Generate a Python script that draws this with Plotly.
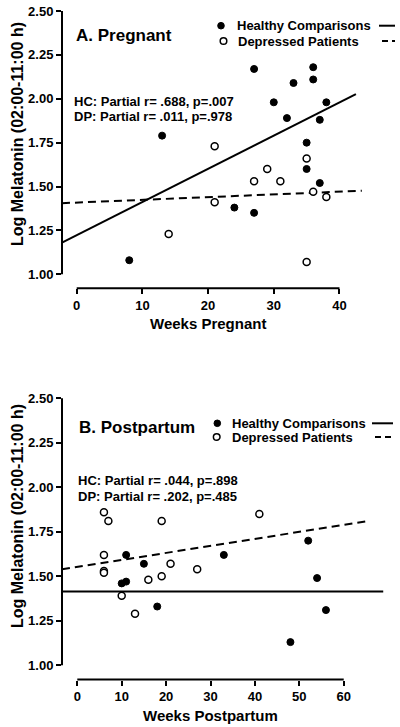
import plotly.graph_objects as go

# ---------------- data ----------------
# Panel A: Pregnant
a_hc_weeks = [8, 13, 24, 27, 27, 30, 32, 33, 35, 35, 36, 36, 37, 37, 38]
a_hc_mel = [1.08, 1.79, 1.38, 1.35, 2.17, 1.98, 1.89, 2.09, 1.75, 1.60, 2.18, 2.11, 1.88, 1.52, 1.98]
a_dp_weeks = [14, 21, 21, 27, 29, 31, 35, 35, 36, 38]
a_dp_mel = [1.23, 1.41, 1.73, 1.53, 1.60, 1.53, 1.66, 1.07, 1.47, 1.44]
a_hc_fit_x = [-2.24, 42.5]
a_hc_fit_y = [1.18, 2.026]
a_dp_fit_x = [-2.24, 43.4]
a_dp_fit_y = [1.405, 1.476]

# Panel B: Postpartum
b_hc_weeks = [10, 11, 11, 15, 18, 33, 48, 52, 54, 56]
b_hc_mel = [1.46, 1.47, 1.62, 1.57, 1.33, 1.62, 1.13, 1.70, 1.49, 1.31]
b_dp_weeks = [6, 7, 19, 41, 6, 6, 6, 21, 27, 19, 16, 10, 13]
b_dp_mel = [1.86, 1.81, 1.81, 1.85, 1.62, 1.53, 1.52, 1.57, 1.54, 1.50, 1.48, 1.39, 1.29]
b_hc_fit_x = [-3.45, 68.9]
b_hc_fit_y = [1.414, 1.414]
b_dp_fit_x = [-3.45, 65.9]
b_dp_fit_y = [1.539, 1.812]

y_ticks = [1.00, 1.25, 1.50, 1.75, 2.00, 2.25, 2.50]
a_x_ticks = [0, 10, 20, 30, 40]
b_x_ticks = [0, 10, 20, 30, 40, 50, 60]

legend_labels = ["Healthy Comparisons", "Depressed Patients"]
a_title = "A. Pregnant"
b_title = "B. Postpartum"
a_stats = ["HC: Partial r= .688, p=.007", "DP: Partial r= .011, p=.978"]
b_stats = ["HC: Partial r= .044, p=.898", "DP: Partial r= .202, p=.485"]
y_title = "Log Melatonin (02:00-11:00 h)"
a_x_title = "Weeks Pregnant"
b_x_title = "Weeks Postpartum"

# ---------------- layout helpers ----------------
W, H = 400, 727
FONT = "Liberation Sans, Arial, sans-serif"


def px(x):
    return x / W


def py(y):
    return 1 - y / H


fig = go.Figure()

mk_hc = dict(symbol="circle", size=7, color="black", line=dict(color="black", width=1))
mk_dp = dict(symbol="circle", size=7, color="white", line=dict(color="black", width=1.5))
DASH = "8px,5px"

# Panel A traces
fig.add_trace(go.Scatter(x=a_hc_fit_x, y=a_hc_fit_y, mode="lines",
                         line=dict(color="black", width=2), xaxis="x", yaxis="y", showlegend=False))
fig.add_trace(go.Scatter(x=a_dp_fit_x, y=a_dp_fit_y, mode="lines",
                         line=dict(color="black", width=2, dash=DASH), xaxis="x", yaxis="y", showlegend=False))
fig.add_trace(go.Scatter(x=a_hc_weeks, y=a_hc_mel, mode="markers", marker=mk_hc,
                         xaxis="x", yaxis="y", showlegend=False))
fig.add_trace(go.Scatter(x=a_dp_weeks, y=a_dp_mel, mode="markers", marker=mk_dp,
                         xaxis="x", yaxis="y", showlegend=False))

# Panel B traces
fig.add_trace(go.Scatter(x=b_hc_fit_x, y=b_hc_fit_y, mode="lines",
                         line=dict(color="black", width=2), xaxis="x2", yaxis="y2", showlegend=False))
fig.add_trace(go.Scatter(x=b_dp_fit_x, y=b_dp_fit_y, mode="lines",
                         line=dict(color="black", width=2, dash=DASH), xaxis="x2", yaxis="y2", showlegend=False))
fig.add_trace(go.Scatter(x=b_hc_weeks, y=b_hc_mel, mode="markers", marker=mk_hc,
                         xaxis="x2", yaxis="y2", showlegend=False))
fig.add_trace(go.Scatter(x=b_dp_weeks, y=b_dp_mel, mode="markers", marker=mk_dp,
                         xaxis="x2", yaxis="y2", showlegend=False))

tickfont = dict(family=FONT, size=13, color="black", weight="bold")
common_axis = dict(showgrid=False, zeroline=False, showline=False, ticks="outside",
                   ticklen=5, tickwidth=2, tickcolor="black", tickfont=tickfont,
                   fixedrange=True, automargin=False)

fig.update_layout(
    width=W, height=H,
    margin=dict(l=0, r=0, t=0, b=0, autoexpand=False),
    paper_bgcolor="white", plot_bgcolor="white",
    font=dict(family=FONT, color="black", weight="bold"),
    showlegend=False,
    xaxis=dict(domain=[px(62), px(395)], range=[-2.237, 48.45], tickvals=a_x_ticks,
               anchor="y", **common_axis),
    yaxis=dict(domain=[py(288.3), py(0.52)], range=[0.92, 2.56], tickvals=y_ticks,
               tickformat=".2f", anchor="x", **common_axis),
    xaxis2=dict(domain=[px(62), px(395)], range=[-3.446, 71.55], tickvals=b_x_ticks,
                anchor="y2", **common_axis),
    yaxis2=dict(domain=[py(679.5), py(387.6)], range=[0.92, 2.56], tickvals=y_ticks,
                tickformat=".2f", anchor="x2", **common_axis),
)

shapes = []
# Prism-style offset axis lines
for xa, ya, xt in (("x", "y", a_x_ticks), ("x2", "y2", b_x_ticks)):
    shapes.append(dict(type="line", xref=f"{xa} domain", yref=ya, x0=0, x1=0,
                       y0=y_ticks[0], y1=y_ticks[-1], line=dict(color="black", width=2)))
    shapes.append(dict(type="line", xref=xa, yref=f"{ya} domain", x0=xt[0], x1=xt[-1],
                       y0=0, y1=0, line=dict(color="black", width=2)))


def legend_block(cx1, cy1, tx1, lx1a, cx2, cy2, tx2, lx2a, lx_end):
    out_shapes = []
    out_ann = []
    r = 3.3
    out_shapes.append(dict(type="circle", xref="paper", yref="paper", xsizemode="pixel",
                           ysizemode="pixel", xanchor=px(cx1), yanchor=py(cy1),
                           x0=-r, x1=r, y0=-r, y1=r, fillcolor="black",
                           line=dict(color="black", width=1)))
    out_shapes.append(dict(type="circle", xref="paper", yref="paper", xsizemode="pixel",
                           ysizemode="pixel", xanchor=px(cx2), yanchor=py(cy2),
                           x0=-r, x1=r, y0=-r, y1=r, fillcolor="white",
                           line=dict(color="black", width=1.5)))
    out_shapes.append(dict(type="line", xref="paper", yref="paper", x0=px(lx1a), x1=px(lx_end),
                           y0=py(cy1), y1=py(cy1), line=dict(color="black", width=2)))
    out_shapes.append(dict(type="line", xref="paper", yref="paper", x0=px(lx2a), x1=px(lx_end),
                           y0=py(cy2), y1=py(cy2), line=dict(color="black", width=2, dash="6px,4px")))
    for tx, cy, lab in ((tx1, cy1, legend_labels[0]), (tx2, cy2, legend_labels[1])):
        out_ann.append(dict(xref="paper", yref="paper", x=px(tx), y=py(cy), text=lab,
                            showarrow=False, xanchor="left", yanchor="middle",
                            font=dict(family=FONT, size=13, color="black", weight="bold")))
    return out_shapes, out_ann


annotations = []
s, a = legend_block(221, 25.7, 234.5, 379, 223.5, 41, 235.8, 382, 395)
shapes += s
annotations += a
s, a = legend_block(217.3, 423.3, 229.5, 372, 216.7, 437, 229.5, 375, 393)
shapes += s
annotations += a

# Panel titles
annotations.append(dict(xref="paper", yref="paper", x=px(74), y=py(36), text=a_title,
                        showarrow=False, xanchor="left", yanchor="middle",
                        font=dict(family=FONT, size=17, color="black", weight="bold")))
annotations.append(dict(xref="paper", yref="paper", x=px(77), y=py(427.7), text=b_title,
                        showarrow=False, xanchor="left", yanchor="middle",
                        font=dict(family=FONT, size=17, color="black", weight="bold")))

# Stats text
for i, (txt_a, txt_b) in enumerate(zip(a_stats, b_stats)):
    annotations.append(dict(xref="paper", yref="paper", x=px(71.5), y=py(101.7 + 15 * i), text=txt_a,
                            showarrow=False, xanchor="left", yanchor="middle",
                            font=dict(family=FONT, size=13, color="black", weight="bold")))
    annotations.append(dict(xref="paper", yref="paper", x=px(75.5), y=py(480.7 + 15.3 * i), text=txt_b,
                            showarrow=False, xanchor="left", yanchor="middle",
                            font=dict(family=FONT, size=13, color="black", weight="bold")))

# Axis titles
for yc in (134, 516):
    annotations.append(dict(xref="paper", yref="paper", x=px(17), y=py(yc), text=y_title,
                            showarrow=False, textangle=-90, xanchor="center", yanchor="middle",
                            font=dict(family=FONT, size=16, color="black", weight="bold")))
annotations.append(dict(xref="x", yref="paper", x=20, y=py(323.3), text=a_x_title,
                        showarrow=False, xanchor="center", yanchor="middle",
                        font=dict(family=FONT, size=15, color="black", weight="bold")))
annotations.append(dict(xref="x2", yref="paper", x=30, y=py(715), text=b_x_title,
                        showarrow=False, xanchor="center", yanchor="middle",
                        font=dict(family=FONT, size=15, color="black", weight="bold")))

fig.update_layout(shapes=shapes, annotations=annotations)

fig.write_html("out.html", config={"displayModeBar": False},
               post_script="document.body.style.margin='0px';document.body.style.overflow='hidden';")
